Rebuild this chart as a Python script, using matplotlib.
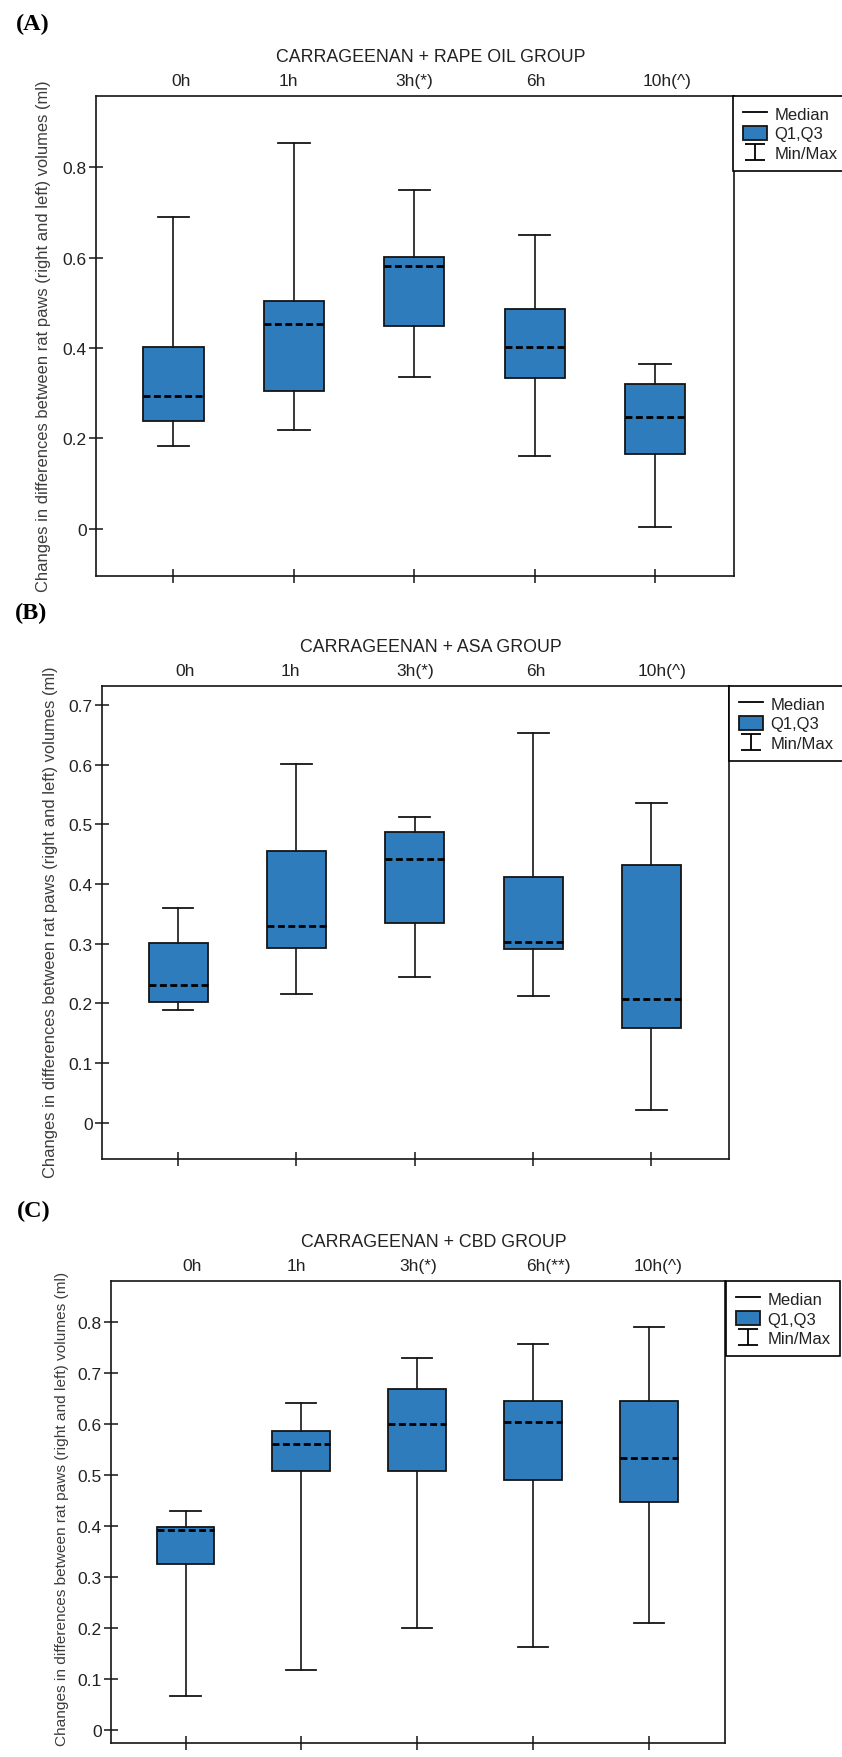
import matplotlib
matplotlib.use("Agg")
import matplotlib.pyplot as plt
from matplotlib.lines import Line2D
from matplotlib.patches import Patch
from matplotlib.path import Path
from matplotlib.transforms import blended_transform_factory

plt.rcParams['font.family'] = ['Liberation Sans', 'DejaVu Sans']

# ---------------- data ----------------
times_A = ['0h', '1h', '3h(*)', '6h', '10h(^)']
min_A = [0.182, 0.218, 0.336, 0.161, 0.004]
q1_A = [0.238, 0.305, 0.448, 0.333, 0.165]
med_A = [0.294, 0.452, 0.581, 0.402, 0.248]
q3_A = [0.402, 0.504, 0.601, 0.486, 0.321]
max_A = [0.689, 0.853, 0.749, 0.651, 0.364]

times_B = ['0h', '1h', '3h(*)', '6h', '10h(^)']
min_B = [0.189, 0.216, 0.244, 0.213, 0.021]
q1_B = [0.203, 0.292, 0.335, 0.291, 0.158]
med_B = [0.231, 0.330, 0.442, 0.302, 0.208]
q3_B = [0.301, 0.455, 0.487, 0.411, 0.432]
max_B = [0.360, 0.601, 0.513, 0.653, 0.536]

times_C = ['0h', '1h', '3h(*)', '6h(**)', '10h(^)']
min_C = [0.066, 0.117, 0.200, 0.162, 0.210]
q1_C = [0.326, 0.508, 0.508, 0.490, 0.448]
med_C = [0.392, 0.561, 0.600, 0.604, 0.534]
q3_C = [0.398, 0.586, 0.669, 0.645, 0.645]
max_C = [0.430, 0.642, 0.729, 0.758, 0.791]

titles = ['CARRAGEENAN + RAPE OIL GROUP', 'CARRAGEENAN + ASA GROUP', 'CARRAGEENAN + CBD GROUP']
panel_tags = ['(A)', '(B)', '(C)']
yticks_A = [0, 0.2, 0.4, 0.6, 0.8]
yticks_B = [0, 0.1, 0.2, 0.3, 0.4, 0.5, 0.6, 0.7]
yticks_C = [0, 0.1, 0.2, 0.3, 0.4, 0.5, 0.6, 0.7, 0.8]
ylabel = 'Changes in differences between rat paws (right and left) volumes (ml)'
legend_labels = ['Median', 'Q1,Q3', 'Min/Max']

# ---------------- layout (pixels) ----------------
W, H = 842, 1758
panels = [
    dict(box=(96, 97, 734, 577), ylim=(-0.105, 0.958), yl=(44, 336, 11.9), tag_xy=(33, 24),
         leg=(733, 97), lab_x=[1.06, 1.955, 3.0, 4.01, 5.10]),
    dict(box=(102, 687, 729, 1160), ylim=(-0.061, 0.732), yl=(51, 922, 11.9), tag_xy=(31, 613),
         leg=(729, 687), lab_x=[1.06, 1.95, 3.005, 4.02, 5.09]),
    dict(box=(111, 1282, 725, 1744), ylim=(-0.026, 0.881), yl=(62, 1509, 11.1), tag_xy=(34, 1211),
         leg=(726, 1282), lab_x=[1.056, 1.958, 3.005, 4.13, 5.074]),
]
series = [
    (times_A, min_A, q1_A, med_A, q3_A, max_A, yticks_A),
    (times_B, min_B, q1_B, med_B, q3_B, max_B, yticks_B),
    (times_C, min_C, q1_C, med_C, q3_C, max_C, yticks_C),
]
title_x = 3.14
BLUE = '#2e7cbc'
EDGE = '#151515'
TXT = '#222222'

fig = plt.figure(figsize=(W / 100, H / 100), dpi=100)

ibeam = Path([(-0.8, 0.6), (0.8, 0.6), (0, 0.6), (0, -0.6), (-0.8, -0.6), (0.8, -0.6)],
             [Path.MOVETO, Path.LINETO, Path.MOVETO, Path.LINETO, Path.MOVETO, Path.LINETO])

for p, (times, mn, q1, md, q3, mx, yt), title, tag in zip(panels, series, titles, panel_tags):
    l, t, r, b = p['box']
    ax = fig.add_axes([l / W, 1 - b / H, (r - l) / W, (b - t) / H])
    stats = [dict(med=m, q1=a, q3=c, whislo=lo, whishi=hi, fliers=[])
             for lo, a, m, c, hi in zip(mn, q1, md, q3, mx)]
    pos = list(range(1, len(stats) + 1))
    ax.bxp(stats, positions=pos, widths=0.5, capwidths=0.26, patch_artist=True,
           showfliers=False, manage_ticks=False,
           boxprops=dict(facecolor=BLUE, edgecolor=EDGE, linewidth=1.3),
           whiskerprops=dict(color=EDGE, linewidth=1.2),
           capprops=dict(color=EDGE, linewidth=1.3),
           medianprops=dict(color='black', linewidth=2.0, linestyle=(0, (2.5, 1.25))))
    ax.set_xlim(0.357, 5.655)
    ax.set_ylim(*p['ylim'])
    ax.set_xticks(pos)
    ax.set_xticklabels([])
    ax.set_yticks(yt)
    ax.set_yticklabels([f'{v:g}' for v in yt])
    ax.tick_params(axis='both', direction='inout', length=10, width=1.1, color=EDGE,
                   labelsize=12.5, labelcolor=TXT, pad=1.5)
    for s in ax.spines.values():
        s.set_linewidth(1.2)
        s.set_color(EDGE)

    trans = blended_transform_factory(ax.transData, ax.transAxes)
    for x, lab in zip(p['lab_x'], times):
        ax.annotate(lab, xy=(x, 1), xycoords=trans, xytext=(0, 11.5), textcoords='offset points',
                    ha='center', va='center', fontsize=12.5, color=TXT)
    ax.annotate(title, xy=(title_x, 1), xycoords=trans, xytext=(0, 28.5), textcoords='offset points',
                ha='center', va='center', fontsize=12.8, color=TXT)

    yx, yy, ys = p['yl']
    ax.set_ylabel(ylabel, fontsize=ys, color='#3c3c3c')
    ax.yaxis.set_label_coords((yx - l) / (r - l), (b - yy) / (b - t))
    ax.yaxis.label.set_va('center')

    fig.text(p['tag_xy'][0] / W, 1 - p['tag_xy'][1] / H, tag, ha='center', va='center',
             fontsize=17.5, fontweight='bold', family='Liberation Serif', color='black')

    handles = [Line2D([], [], color='black', linewidth=1.3),
               Patch(facecolor=BLUE, edgecolor=EDGE, linewidth=1.3),
               Line2D([], [], linestyle='none', marker=ibeam, markersize=15,
                      markeredgecolor='black', markeredgewidth=1.3)]
    lx, ly = p['leg']
    leg = fig.legend(handles, legend_labels, loc='upper left',
                     bbox_to_anchor=(lx / W, 1 - ly / H), bbox_transform=fig.transFigure,
                     borderaxespad=0, fancybox=False, framealpha=1, edgecolor='black',
                     fontsize=12, handlelength=1.45, handleheight=0.95, handletextpad=0.42,
                     borderpad=0.6, labelspacing=0.22)
    leg.get_frame().set_linewidth(1.2)
    for tx in leg.get_texts():
        tx.set_color(TXT)

fig.savefig('out.png', dpi=100)
